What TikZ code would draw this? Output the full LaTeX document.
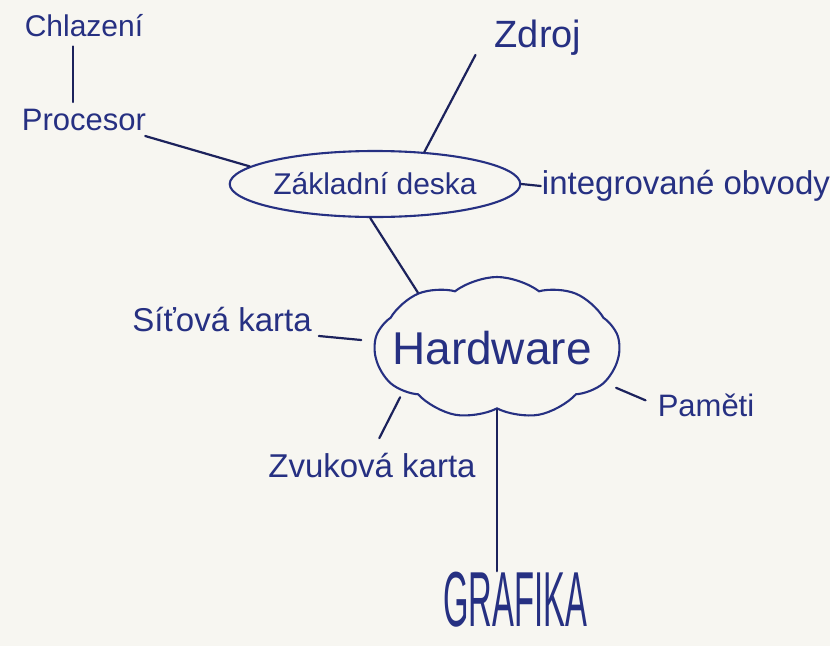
\documentclass[tikz,border=0pt]{standalone}
\usepackage{fontspec}
\setmainfont{Liberation Sans}
\usetikzlibrary{shapes.geometric,shapes.symbols}
\definecolor{paper}{RGB}{247,246,241}
\definecolor{ink}{RGB}{38,48,130}
\definecolor{pen}{RGB}{28,34,92}
\tikzset{
  word/.style={text=ink, inner sep=1pt},
  link/.style={draw=pen, line width=2.2pt, line cap=round},
  rim/.style={draw=ink, line width=2.1pt},
}
\begin{document}
\begin{tikzpicture}[x=1pt,y=-1pt]
  \fill[paper] (0,0) rectangle (830,646);
  \useasboundingbox (0,0) rectangle (830,646);

  % central topics
  \node[rim, ellipse, minimum width=270pt, minimum height=66pt, word,
        font=\fontsize{30}{33}\selectfont] (zd) at (375,184) {Základní deska};
  \node[rim, cloud, cloud puffs=9, cloud puff arc=75, aspect=1.7,
        minimum width=245pt, minimum height=142pt] (hw) at (497,348) {};
  \node[word, font=\fontsize{46}{50}\selectfont] at (492,348) {Hardware};

  % leaves
  \node[word, font=\fontsize{30}{34}\selectfont] (chl) at (84,26) {Chlazení};
  \node[word, font=\fontsize{31}{34}\selectfont] (proc) at (84,120) {Procesor};
  \node[word, font=\fontsize{38}{42}\selectfont] (zdroj) at (538,38) {Zdroj};
  \node[word, font=\fontsize{33}{36}\selectfont] (io) at (686,186) {integrované obvody};
  \node[word, font=\fontsize{33}{36}\selectfont] (sit) at (222,320) {Síťová karta};
  \node[word, font=\fontsize{31}{34}\selectfont] (pam) at (706,405) {Paměti};
  \node[word, font=\fontsize{33}{36}\selectfont] (zvuk) at (372,466) {Zvuková karta};
  \node[word, font=\fontsize{78}{82}\selectfont] (graf) at (515,600) {\scalebox{0.42}[1]{GRAFIKA}};

  % connectors
  \draw[link, shorten <=8pt, shorten >=6pt] ([xshift=-11pt]chl.south) -- ([xshift=-11pt]chl.south |- proc.north);
  \draw[link] ([xshift=-2pt,yshift=-4pt]proc.south east) -- (zd.172);
  \draw[link] ([xshift=-18pt,yshift=2pt]zdroj.south west) -- (zd.33);
  \draw[link] (zd.east) -- (io.west);
  \draw[link] (zd.262) -- (hw.145);
  \draw[link] ([xshift=6pt,yshift=-16pt]sit.east) -- ([xshift=-12pt,yshift=8pt]hw.west);
  \draw[link, shorten <=6pt, shorten >=16pt] (hw.205) -- (zvuk.north);
  \draw[link, shorten <=12pt, shorten >=12pt] (hw.-18) -- (pam.west);
  \draw[link] (hw.south) -- (hw.south |- graf.north);
\end{tikzpicture}
\end{document}
